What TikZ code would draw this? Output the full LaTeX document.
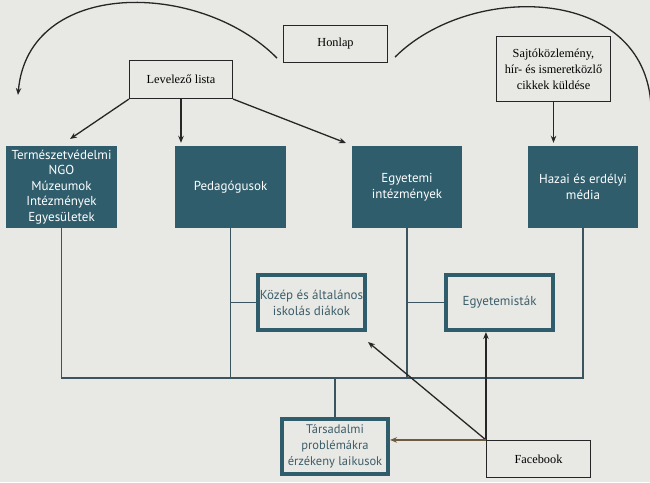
\documentclass[tikz,border=0pt]{standalone}
\usepackage{fontspec}
\setmainfont{Liberation Serif}
\newfontfamily\boxfont{PT Sans}
\usetikzlibrary{arrows.meta,calc}
\definecolor{paper}{HTML}{E8E8E4}
\definecolor{darkteal}{HTML}{2F5D6C}
\definecolor{linecol}{HTML}{3A5560}
\definecolor{brownline}{HTML}{6E5A3E}
\definecolor{boxtext}{HTML}{3C5E6A}
\begin{document}
\begin{tikzpicture}[x=1pt,y=-1pt,
  serifbox/.style={draw=black!85, line width=1.1pt, inner sep=0pt, align=center,
    font=\fontsize{12.3}{16}\selectfont},
  darkbox/.style={fill=darkteal, text=white, inner sep=0pt, align=center,
    minimum height=82pt, font=\boxfont\fontsize{13}{15.5}\selectfont},
  thickbox/.style={draw=darkteal, line width=4pt, inner sep=0pt, align=center,
    text=boxtext, minimum width=107pt, minimum height=55pt,
    font=\boxfont\fontsize{13}{16}\selectfont},
  arr/.style={-{Stealth[length=7pt,width=5.5pt]}, line width=1.3pt, draw=black!85},
  thinline/.style={draw=linecol, line width=1.2pt}
]
\useasboundingbox (0,0) rectangle (650,482);
\fill[paper] (0,0) rectangle (650,482);

% top boxes
\node[serifbox, minimum width=104pt, minimum height=37pt] (honlap) at (335.5,44) {Honlap};
\node[serifbox, minimum width=103pt, minimum height=38pt] (lev) at (181,79.5) {Levelező lista};
\node[serifbox, minimum width=114pt, minimum height=65pt] (sajto) at (553.5,69)
  {Sajtóközlemény,\\hír- és ismeretközlő\\cikkek küldése};

% dark boxes
\node[darkbox, minimum width=111pt] (b1) at (61.5,187)
  {Természetvédelmi\\NGO\\Múzeumok\\Intézmények\\Egyesületek};
\node[darkbox, minimum width=111pt] (b2) at (230.5,187) {Pedagógusok};
\node[darkbox, minimum width=110pt] (b3) at (407,187) {Egyetemi\\intézmények};
\node[darkbox, minimum width=110pt] (b4) at (583,187) {Hazai és erdélyi\\média};

% thick boxes
\node[thickbox] (kozep) at (311.5,302.5) {Közép és általános\\iskolás diákok};
\node[thickbox] (egy) at (499.5,302.5) {Egyetemisták};
\node[thickbox, minimum width=106pt, font=\boxfont\fontsize{12.5}{16}\selectfont] (tars) at (335,446.5)
  {Társadalmi\\problémákra\\érzékeny laikusok};

% facebook
\node[serifbox, minimum width=104pt, minimum height=37pt] (fb) at (538.5,459) {Facebook};

% curves from Honlap
\coordinate (lcs) at ($(honlap.south west)+(-6,-5)$);
\coordinate (lce) at (18,95);
\draw[arr] (lcs) .. controls (200,-20) and (28,-22) .. (lce);
\coordinate (rcs) at ($(honlap.south east)+(7,-6)$);
\coordinate (rce) at (651,106);
\draw[line width=1.3pt, draw=black!85] (rcs) .. controls (470,-18) and (645,-15) .. (rce);

% arrows from Levelező lista
\coordinate (t1) at (70,139);
\coordinate (t3) at (346,143);
\draw[arr] (lev.south west) -- (t1);
\draw[arr] (lev.south) -- ($(lev.south |- b2.north)+(0,-3)$);
\draw[arr] (lev.south east) -- (t3);

% arrow from Sajtó
\draw[arr] (sajto.south) -- ($(sajto.south |- b4.north)+(0,-3)$);

% bus lines
\coordinate (bus) at (0,378);
\draw[thinline] (b1.south) -- (b1.south |- bus) -- (b4.south |- bus) -- (b4.south);
\draw[thinline] (b2.south) -- (b2.south |- bus);
\draw[thinline] (b3.south) -- (b3.south |- bus);
\draw[thinline] (b2.south |- kozep.west) -- (kozep.west);
\draw[thinline] (b3.south |- egy.west) -- (egy.west);
\draw[thinline] (tars.north) -- (tars.north |- bus);

% arrows from Facebook
\coordinate (tk) at ($(kozep.south east)+(1,10)$);
\draw[arr] (fb.north west) -- (tk);
\draw[arr] (fb.north west) -- (fb.north west |- egy.south);
\draw[arr, draw=brownline] (fb.north west) -- (fb.north west -| tars.east);
\end{tikzpicture}
\end{document}
